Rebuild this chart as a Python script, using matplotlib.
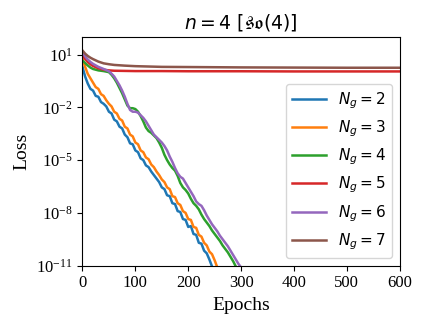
import matplotlib
matplotlib.use("Agg")
import matplotlib.pyplot as plt
import numpy as np

plt.rcParams['font.family'] = 'serif'
plt.rcParams['font.serif'] = ['Liberation Serif', 'DejaVu Serif']
plt.rcParams['mathtext.fontset'] = 'dejavusans'

# log10(loss)
ep_2 = np.arange(0, 250, 5)
log_2 = [0.30, -0.25, -0.65, -0.95, -1.05, -1.35, -1.40, -1.70, -1.80, -1.95,
         -2.25, -2.35, -2.70, -2.80, -3.10, -3.20, -3.55, -3.70, -4.05, -4.10,
         -4.45, -4.55, -4.90, -5.00, -5.30, -5.40, -5.65, -5.85, -6.05, -6.25,
         -6.55, -6.65, -7.00, -7.05, -7.45, -7.50, -7.90, -7.95, -8.35, -8.40,
         -8.80, -8.75, -9.20, -9.25, -9.70, -9.75, -10.15, -10.30, -10.65, -11.05]

ep_3 = np.arange(0, 260, 5)
log_3 = [0.76, 0.30, -0.10, -0.35, -0.60, -0.85, -0.95, -1.25, -1.35, -1.60,
         -1.80, -1.95, -2.25, -2.35, -2.65, -2.75, -3.10, -3.20, -3.55, -3.65,
         -4.00, -4.10, -4.45, -4.55, -4.85, -4.95, -5.25, -5.40, -5.65, -5.85,
         -6.10, -6.25, -6.55, -6.65, -7.05, -7.10, -7.45, -7.55, -7.90, -8.00,
         -8.35, -8.40, -8.80, -8.85, -9.25, -9.35, -9.70, -9.85, -10.20, -10.35,
         -10.70, -11.10]

ep_4 = [0, 5, 10, 15, 20, 30, 40, 50] + list(range(55, 295, 5))
log_4 = [0.66, 0.52, 0.38, 0.26, 0.18, 0.10, 0.06, 0.00,
         -0.15, -0.35, -0.60, -0.90, -1.20, -1.55, -1.90, -2.05, -2.05, -2.10,
         -2.25, -2.50, -2.80, -3.15, -3.35, -3.45, -3.60, -3.75, -4.00, -4.30,
         -4.70, -5.00, -5.25, -5.45, -5.60, -5.90, -6.30, -6.55, -6.70, -6.90,
         -7.20, -7.45, -7.60, -7.80, -8.10, -8.35, -8.55, -8.75, -9.00, -9.20,
         -9.40, -9.60, -9.85, -10.05, -10.25, -10.50, -10.75, -11.05]

ep_6 = [0, 5, 10, 15, 20, 30, 40, 50] + list(range(55, 305, 5))
log_6 = [1.13, 0.90, 0.72, 0.58, 0.47, 0.30, 0.18, 0.05,
         -0.09, -0.25, -0.50, -0.75, -1.05, -1.40, -1.80, -2.15, -2.25, -2.25,
         -2.30, -2.45, -2.60, -2.80, -3.05, -3.30, -3.55, -3.70, -3.85, -4.00,
         -4.20, -4.45, -4.80, -5.10, -5.45, -5.75, -5.95, -6.05, -6.30, -6.55,
         -6.80, -7.05, -7.35, -7.50, -7.60, -7.85, -8.15, -8.40, -8.65, -8.85,
         -9.05, -9.30, -9.50, -9.70, -9.90, -10.15, -10.40, -10.65, -10.90, -11.10]

ep_57 = [0, 5, 10, 15, 20, 30, 40, 50, 60, 80, 100, 150, 200, 300, 400, 500, 600]
log_5 = [0.94, 0.75, 0.58, 0.45, 0.35, 0.22, 0.14, 0.10, 0.08, 0.07, 0.06,
         0.06, 0.05, 0.05, 0.04, 0.04, 0.04]
log_7 = [1.23, 1.05, 0.92, 0.82, 0.74, 0.60, 0.50, 0.45, 0.41, 0.37, 0.34,
         0.30, 0.29, 0.27, 0.26, 0.25, 0.25]

series = [(ep_2, log_2, 2), (ep_3, log_3, 3), (ep_4, log_4, 4),
          (ep_57, log_5, 5), (ep_6, log_6, 6), (ep_57, log_7, 7)]

fig, ax = plt.subplots(figsize=(4.23, 3.3), dpi=100)
for ep, lg, ng in series:
    ax.plot(ep, 10.0 ** np.array(lg), lw=1.8, label=r'$N_g = %d$' % ng)

ax.set_yscale('log')
ax.set_xlim(0, 600)
ax.set_ylim(1e-11, 1e2)
ax.set_yticks([1e1, 1e-2, 1e-5, 1e-8, 1e-11])
ax.yaxis.set_minor_locator(matplotlib.ticker.NullLocator())
ax.tick_params(labelsize=12)
ax.set_xlabel('Epochs', fontsize=14)
ax.set_ylabel('Loss', fontsize=14)
ax.set_title(r'$n = 4\ [\mathfrak{so}(4)]$', fontsize=13.5)
ax.legend(loc='lower right', fontsize=11, handlelength=2.2)

fig.subplots_adjust(left=0.195, right=0.945, top=0.888, bottom=0.195)
fig.savefig('out.png', dpi=100)
